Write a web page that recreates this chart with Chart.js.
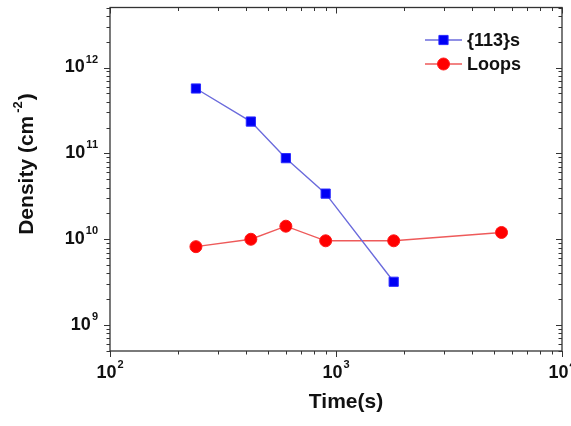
<!DOCTYPE html>
<html>
<head>
<meta charset="utf-8">
<script src="https://cdn.jsdelivr.net/npm/chart.js@4"></script>
<style>
  html, body { margin: 0; padding: 0; background: #fff; }
  #wrap { width: 571px; height: 426px; }
</style>
</head>
<body>
<div id="wrap"><canvas id="chart"></canvas></div>
<script>
// values
const times113 = [240, 420, 600, 900, 1800];
const density113 = [5.7e11, 2.35e11, 8.8e10, 3.4e10, 3.2e9];
const timesLoops = [240, 420, 600, 900, 1800, 5400];
const densityLoops = [8.2e9, 1.0e10, 1.42e10, 9.6e9, 9.6e9, 1.2e10];

const seriesNames = ["{113}s", "Loops"];
const xDecades = [2, 3, 4];
const yDecades = [9, 10, 11, 12];
const xTitle = "Time(s)";
const yTitle = "Density (cm";
const yTitleSup = "-2";

const FONT = "'Liberation Sans', Arial, sans-serif";

function toPoints(xs, ys) {
  return xs.map((x, i) => ({ x: x, y: ys[i] }));
}

function drawPow(ctx, x, y, exp, align) {
  // "10" with a raised exponent, y is the middle of "10"
  ctx.font = "bold 18px " + FONT;
  const wBase = ctx.measureText("10").width;
  ctx.font = "bold 11px " + FONT;
  const wExp = ctx.measureText(String(exp)).width;
  const total = wBase + wExp + 1;
  let left = x - total / 2;
  if (align === "right") left = x - total;
  ctx.textBaseline = "middle";
  ctx.textAlign = "left";
  ctx.font = "bold 18px " + FONT;
  ctx.fillText("10", left, y);
  ctx.font = "bold 11px " + FONT;
  ctx.fillText(String(exp), left + wBase + 1, y - 8);
}

const axesPlugin = {
  id: "originAxes",
  afterDraw(chart) {
    const ctx = chart.ctx;
    const a = chart.chartArea;
    const xs = chart.scales.x;
    const ys = chart.scales.y;
    ctx.save();
    ctx.strokeStyle = "#333";
    ctx.fillStyle = "#111";
    ctx.lineWidth = 1.3;
    ctx.strokeRect(a.left, a.top, a.right - a.left, a.bottom - a.top);

    ctx.lineWidth = 1;
    ctx.beginPath();
    // x ticks: outward on bottom, inward on top
    for (let d = 2; d <= 4; d++) {
      for (let m = 1; m <= 9; m++) {
        const v = m * Math.pow(10, d);
        if (v < xs.min || v > xs.max) continue;
        const p = Math.round(xs.getPixelForValue(v)) + 0.5;
        const len = m === 1 ? 6 : 3.5;
        ctx.moveTo(p, a.bottom);
        ctx.lineTo(p, a.bottom + len);
        ctx.moveTo(p, a.top);
        ctx.lineTo(p, a.top + len);
      }
    }
    // y ticks: outward on left, inward on right
    for (let d = 8; d <= 12; d++) {
      for (let m = 1; m <= 9; m++) {
        const v = m * Math.pow(10, d);
        if (v < ys.min || v > ys.max) continue;
        const p = Math.round(ys.getPixelForValue(v)) + 0.5;
        const len = m === 1 ? 6 : 3.5;
        ctx.moveTo(a.left, p);
        ctx.lineTo(a.left - len, p);
        ctx.moveTo(a.right, p);
        ctx.lineTo(a.right - len, p);
      }
    }
    ctx.stroke();

    // tick labels
    xDecades.forEach((d) => {
      drawPow(ctx, xs.getPixelForValue(Math.pow(10, d)), a.bottom + 22, d, "center");
    });
    yDecades.forEach((d) => {
      drawPow(ctx, a.left - 12, ys.getPixelForValue(Math.pow(10, d)), d, "right");
    });

    // axis titles
    ctx.font = "bold 21px " + FONT;
    ctx.textAlign = "center";
    ctx.textBaseline = "middle";
    ctx.fillText(xTitle, (a.left + a.right) / 2 + 10, 402);

    ctx.save();
    ctx.translate(27, 164);
    ctx.rotate(-Math.PI / 2);
    ctx.font = "bold 21px " + FONT;
    const w1 = ctx.measureText(yTitle).width;
    ctx.font = "bold 13px " + FONT;
    const w2 = ctx.measureText(yTitleSup).width;
    ctx.font = "bold 21px " + FONT;
    const w3 = ctx.measureText(")").width;
    let left = -(w1 + w2 + w3 + 4) / 2;
    ctx.textAlign = "left";
    ctx.fillText(yTitle, left, 0);
    ctx.font = "bold 13px " + FONT;
    ctx.fillText(yTitleSup, left + w1 + 3, -9);
    ctx.font = "bold 21px " + FONT;
    ctx.fillText(")", left + w1 + w2 + 4, 0);
    ctx.restore();

    // legend
    chart.data.datasets.forEach((ds, i) => {
      const y = 40 + i * 24;
      ctx.strokeStyle = ds.borderColor;
      ctx.lineWidth = ds.borderWidth;
      ctx.beginPath();
      ctx.moveTo(425, y);
      ctx.lineTo(462, y);
      ctx.stroke();
      ctx.fillStyle = ds.pointBackgroundColor;
      ctx.strokeStyle = ds.pointBorderColor;
      ctx.lineWidth = 1;
      Chart.helpers.drawPoint(ctx, {
        pointStyle: ds.pointStyle,
        radius: ds.pointRadius,
        rotation: 0,
        borderWidth: 1,
      }, 443.5, y);
      ctx.fillStyle = "#111";
      ctx.font = "bold 18px " + FONT;
      ctx.textAlign = "left";
      ctx.textBaseline = "middle";
      ctx.fillText(ds.label, 467, y + 1);
    });
    ctx.restore();
  },
};

new Chart(document.getElementById("chart"), {
  type: "scatter",
  data: {
    datasets: [
      {
        label: seriesNames[0],
        data: toPoints(times113, density113),
        showLine: true,
        borderColor: "#6b6bdc",
        borderWidth: 1.4,
        pointStyle: "rect",
        pointRadius: 6.5,
        pointBackgroundColor: "#0000f5",
        pointBorderColor: "#2a2aff",
        pointBorderWidth: 1,
      },
      {
        label: seriesNames[1],
        data: toPoints(timesLoops, densityLoops),
        showLine: true,
        borderColor: "#ee5a5a",
        borderWidth: 1.4,
        pointStyle: "circle",
        pointRadius: 6,
        pointBackgroundColor: "#ff0000",
        pointBorderColor: "#ff1a1a",
        pointBorderWidth: 1,
      },
    ],
  },
  options: {
    responsive: true,
    maintainAspectRatio: false,
    animation: false,
    layout: { padding: { left: 110, top: 6, right: 9, bottom: 75 } },
    plugins: {
      legend: { display: false },
      tooltip: { enabled: false },
    },
    scales: {
      x: { type: "logarithmic", min: 100, max: 10000, display: false },
      y: { type: "logarithmic", min: 5e8, max: 5e12, display: false },
    },
  },
  plugins: [axesPlugin],
});
</script>
</body>
</html>
